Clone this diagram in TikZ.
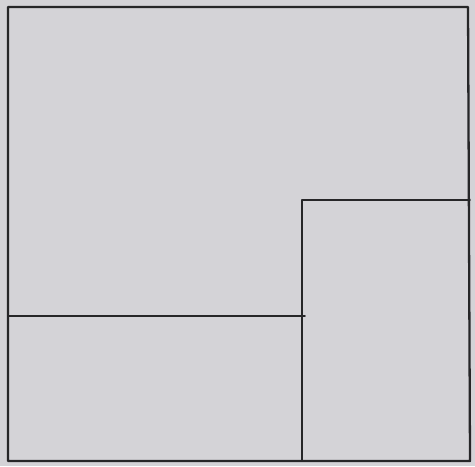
\documentclass[tikz,border=0pt]{standalone}
\usepackage{tikz}
\usetikzlibrary{backgrounds}

\definecolor{paper}{RGB}{212,211,215}
\definecolor{pen}{RGB}{38,38,40}

\begin{document}
\begin{tikzpicture}[
    x=0.02cm, y=-0.02cm,
    frame/.style={draw=pen, line width=1.3pt, line join=round},
    split/.style={draw=pen, line width=0.9pt, line cap=round},
]

\fill[paper] (0,0) rectangle (475,466);
\useasboundingbox (0,0) rectangle (475,466);

% corners of the outer square
\coordinate (tl) at (8,7);
\coordinate (tr) at (468,7);
\coordinate (br) at (470,461);
\coordinate (bl) at (8,461);

% inner division points
\coordinate (mid_top) at (302,200);
\coordinate (mid_right) at (470,200);
\coordinate (mid_bot) at (302,461);
\coordinate (left_cut) at (8,316);
\coordinate (mid_cut) at (305,316);

\draw[frame] (tl) -- (tr) -- (br) -- (bl) -- cycle;

\draw[split] (mid_top) -- (mid_right);
\draw[split] (mid_top) -- (mid_bot);
\draw[split] (left_cut) -- (mid_cut);

\end{tikzpicture}
\end{document}
